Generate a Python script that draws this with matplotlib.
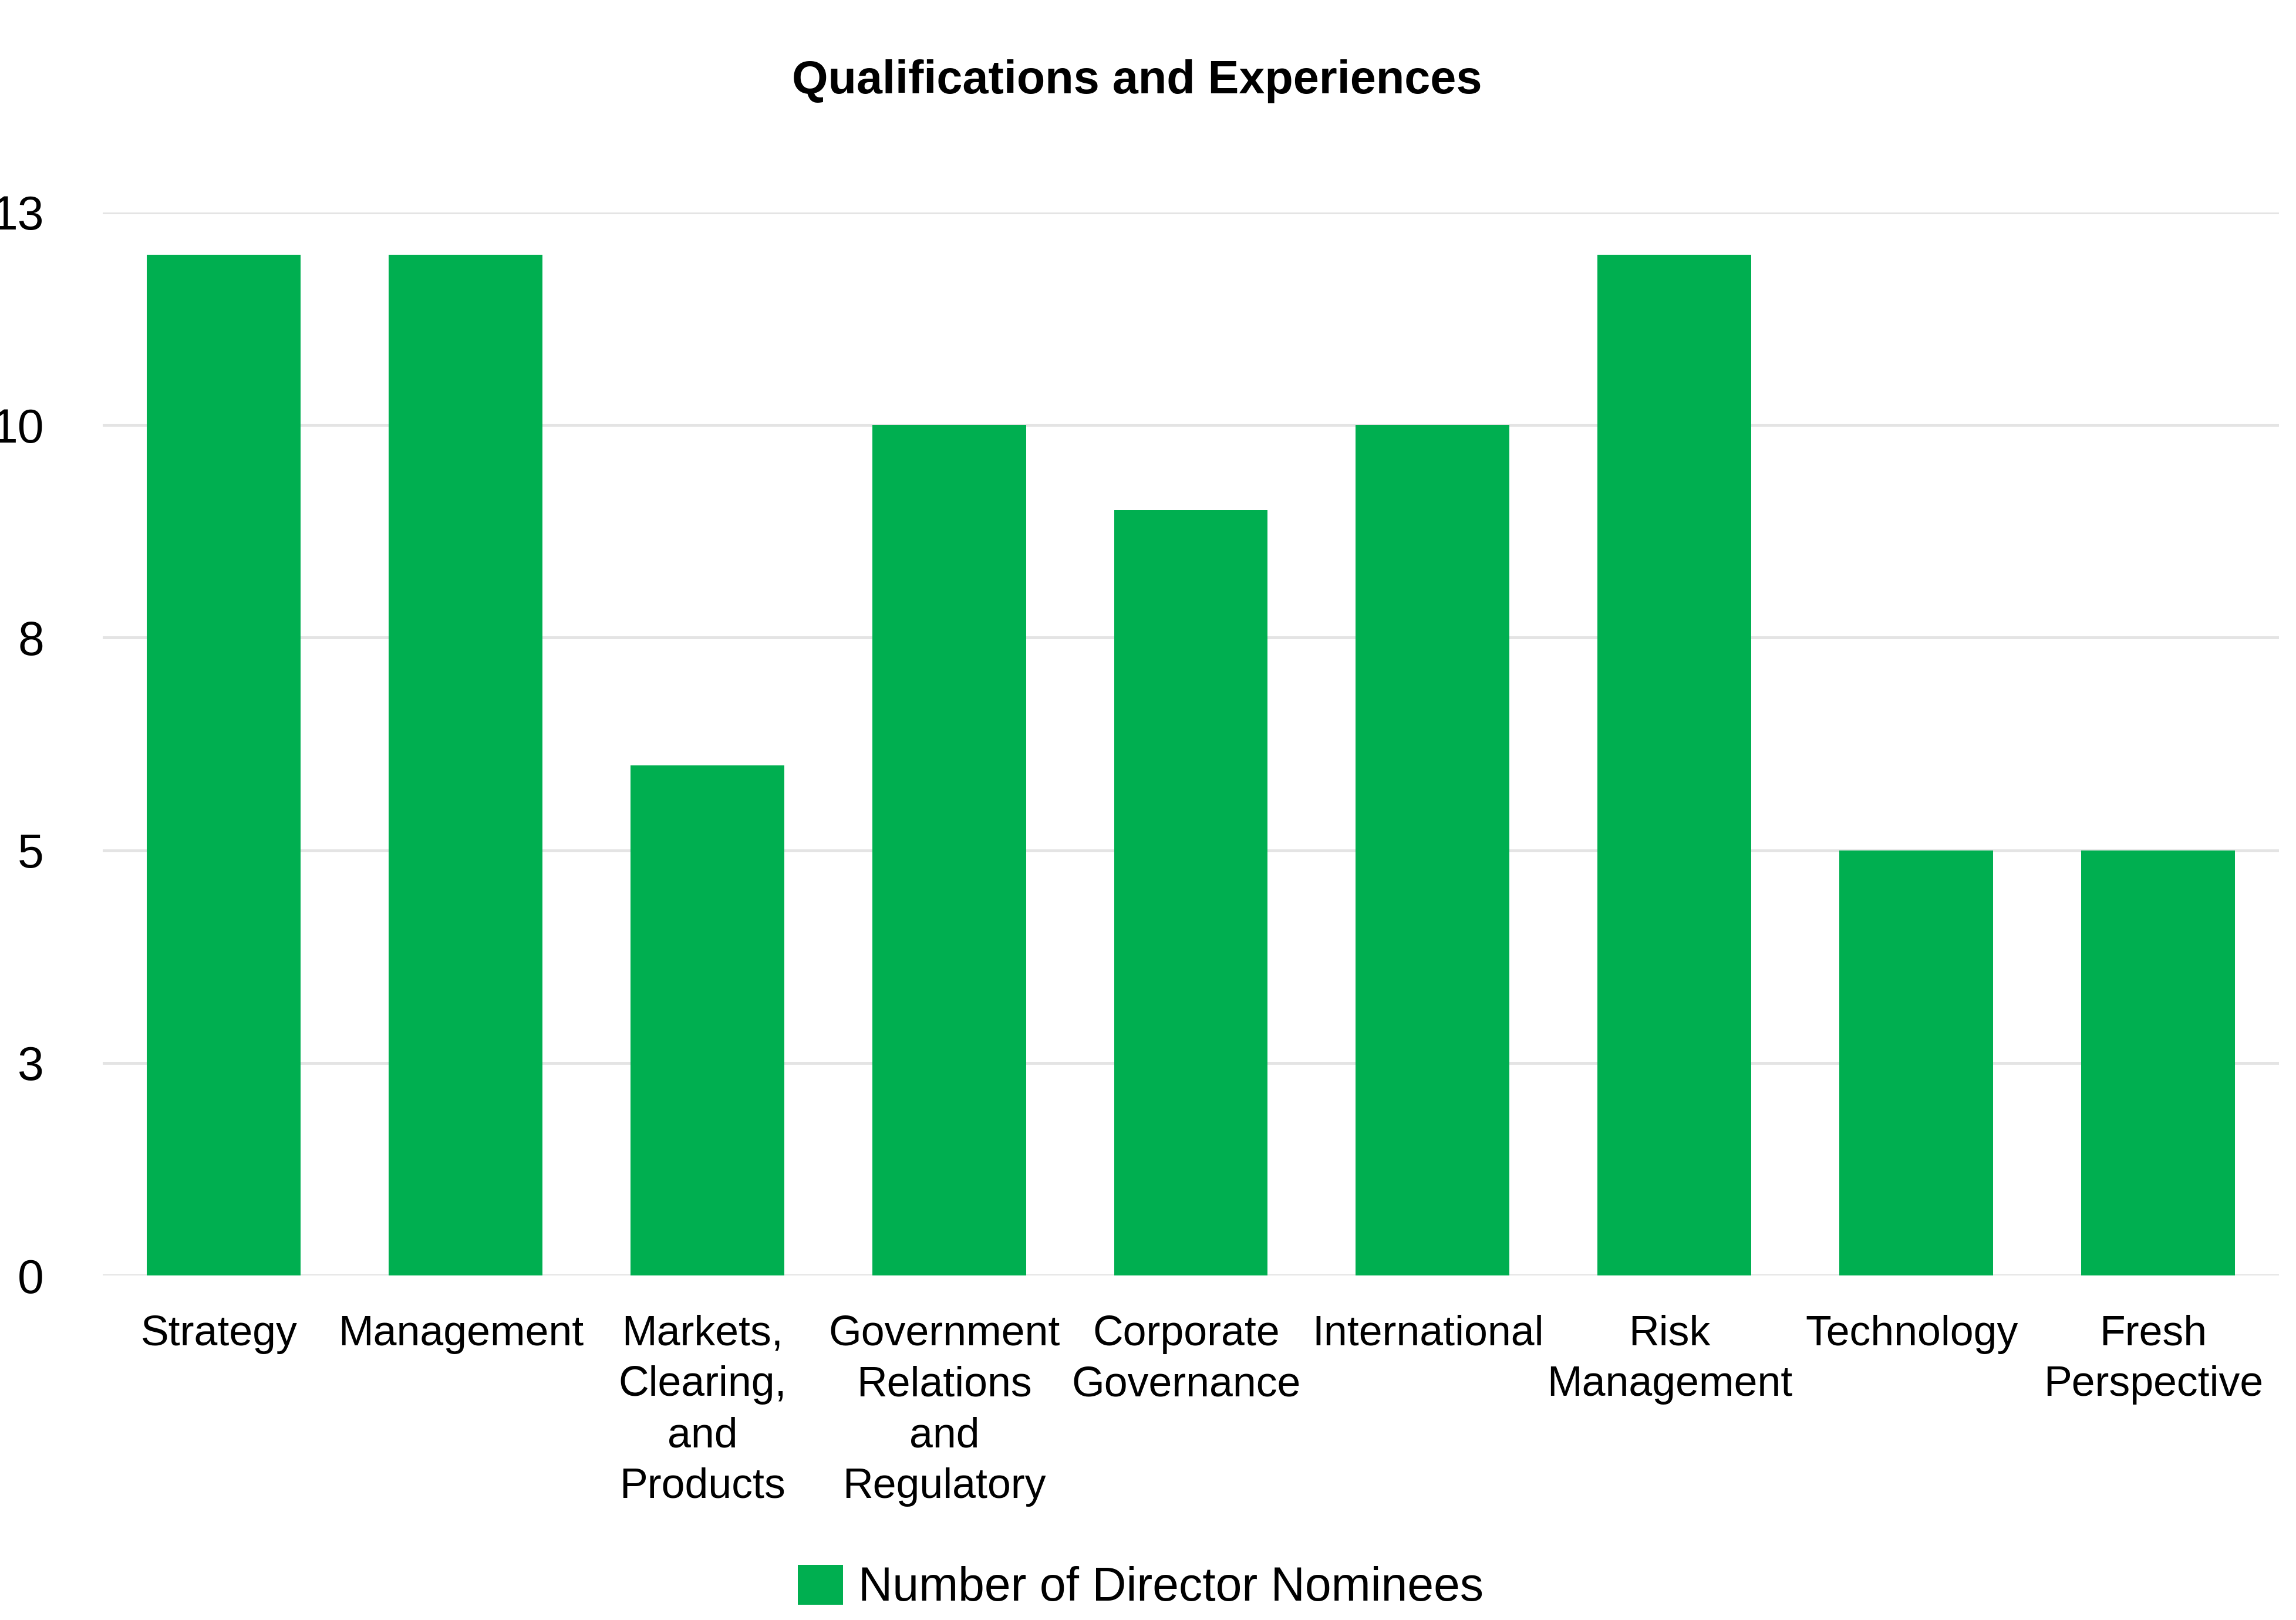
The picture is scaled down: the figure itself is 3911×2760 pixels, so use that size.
import matplotlib
matplotlib.use("Agg")
import matplotlib.pyplot as plt
import matplotlib.transforms as mtransforms
from matplotlib.patches import Patch

plt.rcParams['font.family'] = ['Liberation Sans', 'DejaVu Sans']

categories = ["Strategy", "Management", "Markets,\nClearing,\nand\nProducts",
              "Government\nRelations\nand\nRegulatory", "Corporate\nGovernance",
              "International", "Risk\nManagement", "Technology", "Fresh\nPerspective"]
values = [12, 12, 6, 10, 9, 10, 12, 5, 5]
ytick_values = [0, 2.5, 5, 7.5, 10, 12.5]
ytick_labels = ["0", "3", "5", "8", "10", "13"]
series_name = "Number of Director Nominees"
title = "Qualifications and Experiences"

W, H, DPI = 3912, 2760, 200
fig = plt.figure(figsize=(W / DPI, H / DPI), dpi=DPI)
ax = fig.add_axes([175 / W, 1 - 2173 / H, (3882 - 175) / W, (2173 - 362) / H])

green = "#00AF50"
x = list(range(len(categories)))
ax.bar(x, values, width=0.636, color=green, zorder=3)

ax.set_xlim(-0.5, len(categories) - 0.5)
ax.set_ylim(0, 12.5)
ax.set_yticks(ytick_values)
ax.set_yticklabels(ytick_labels)
ax.set_xticks(x)
ax.set_xticklabels(categories, linespacing=1.38)
ax.tick_params(axis='y', length=0, pad=36, labelsize=29)
ax.tick_params(axis='x', length=0, pad=24, labelsize=25.8)
shift = mtransforms.ScaledTranslation(-8 / DPI, 0, fig.dpi_scale_trans)
for lbl in ax.get_xticklabels():
    lbl.set_transform(lbl.get_transform() + shift)
for s in ax.spines.values():
    s.set_visible(False)
ax.grid(axis='y', color="#e4e4e4", linewidth=1.8, zorder=0)
ax.set_axisbelow(True)

fig.text(1937 / W, 1 - 139 / H, title, ha='center', va='center',
         fontsize=28.5, fontweight='bold')

fig.legend(handles=[Patch(facecolor=green, edgecolor='none', label=series_name)],
           loc='center', bbox_to_anchor=(1943 / W, 1 - 2705 / H),
           frameon=False, fontsize=29, handlelength=0.96, handleheight=0.93,
           handletextpad=0.33, borderpad=0, borderaxespad=0)

fig.savefig("out.png", dpi=DPI)
